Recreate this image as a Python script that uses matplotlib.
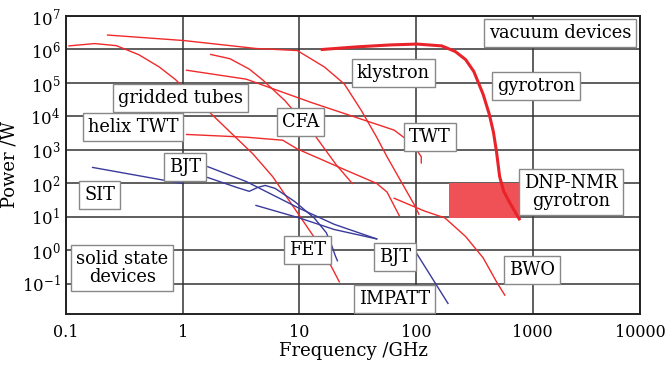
import matplotlib.pyplot as plt

plt.rcParams['font.family'] = 'DejaVu Serif'
plt.rcParams['mathtext.fontset'] = 'dejavuserif'

# vacuum devices: frequency (GHz) / average power (W)
gridded_f = [0.106, 0.176, 0.27, 0.42, 0.63, 0.87, 1.64, 4.0, 5.9, 10, 15.7, 22]
gridded_p = [1.28e6, 1.5e6, 1.3e6, 7e5, 3e5, 1.25e5, 1.5e4, 760, 160, 11, 1.1, 0.115]

klystron_f = [0.227, 1.02, 4.25, 9.6, 16.4, 24.3, 34, 46, 56.5, 96, 106]
klystron_p = [2.7e6, 1.85e6, 1.07e6, 9.3e5, 3.0e5, 9.3e4, 1.5e4, 2.4e3, 620, 24, 12]

cfa_f = [1.74, 2.54, 3.72, 4.85, 7.5, 13.4, 20.7, 28.4]
cfa_p = [7.1e5, 5.3e5, 2.6e5, 1.23e5, 3.0e4, 2.9e3, 360, 100]

twt_f = [1.08, 3.5, 12.7, 65, 96, 104, 111, 111]
twt_p = [2.4e5, 1.3e5, 2.6e4, 3.9e3, 1.4e3, 870, 620, 410]

helix_f = [1.08, 3.5, 7.2, 9.6, 24.3, 46, 56.5, 72]
helix_p = [2.9e3, 2.4e3, 1.95e3, 1.07e3, 260, 100, 55, 10.7]

gyro_f = [15.7, 31.4, 61, 102, 166, 217, 266, 313, 376, 425, 461, 490, 521, 565, 638, 767]
gyro_p = [1e6, 1.2e6, 1.37e6, 1.45e6, 1.28e6, 8.7e5, 5.0e5, 2.2e5, 4.6e4, 1.15e4,
          3.4e3, 870, 160, 58, 26, 8.7]

bwo_f = [65, 118, 177, 266, 376, 490, 577]
bwo_p = [36, 15, 9.3, 2.6, 0.6, 0.115, 0.046]

dnp_f = [190, 780]
dnp_low = [9, 9]
dnp_high = [100, 100]

# solid state devices
sit_f = [0.169, 0.98]
sit_p = [300, 100]

bjt_f = [1.64, 3.5, 10, 19.9, 46]
bjt_p = [316, 114, 18, 6.0, 2.2]

fet_f = [1.64, 2.9, 3.72, 4.4, 5.1, 6.2, 9.1, 13.4, 17, 18.8, 20.3, 21.2]
fet_p = [150, 76, 58, 76, 87, 71, 29, 9.3, 3.4, 1.5, 0.7, 0.49]

bjt2_f = [4.25, 10, 19.9, 46]
bjt2_p = [22, 9.3, 4.2, 2.2]

impatt_f = [100, 188]
impatt_p = [0.87, 0.026]

# the source figure squeezes its last decade, the right edge is labelled 10000
x_right = 10 ** 3.92
x_ticks = [0.1, 1, 10, 100, 1000, x_right]
x_labels = ['0.1', '1', '10', '100', '1000', '10000']
y_exp = list(range(-1, 8))

red = '#f02a2a'
blue = '#3a3a9c'

fig = plt.figure(figsize=(6.71, 3.66), dpi=100)
ax = fig.add_axes([0.0984, 0.1421, 0.8554, 0.8142])
ax.set_xscale('log')
ax.set_yscale('log')

for f, p in [(gridded_f, gridded_p), (klystron_f, klystron_p), (cfa_f, cfa_p),
             (twt_f, twt_p), (helix_f, helix_p), (bwo_f, bwo_p)]:
    ax.plot(f, p, color=red, lw=1.0)

ax.fill_between(dnp_f, dnp_low, dnp_high, color='#ef5157', lw=0, zorder=2)
ax.plot(gyro_f, gyro_p, color='#e8232a', lw=2.2, zorder=3)

for f, p in [(sit_f, sit_p), (bjt_f, bjt_p), (fet_f, fet_p),
             (bjt2_f, bjt2_p), (impatt_f, impatt_p)]:
    ax.plot(f, p, color=blue, lw=1.0)

ax.set_xlim(0.1, x_right)
ax.set_ylim(10 ** -1.9, 1e7)
ax.set_xticks(x_ticks, x_labels)
ax.set_yticks([10.0 ** e for e in y_exp], [f'$10^{{{e}}}$' for e in y_exp])
ax.minorticks_off()
ax.tick_params(length=0, labelsize=12)
ax.tick_params(axis='x', pad=7, labelsize=11.5)
ax.tick_params(axis='y', pad=4)
ax.grid(True, color='#333333', lw=1.1)
ax.set_axisbelow(True)
for s in ax.spines.values():
    s.set_linewidth(1.4)
    s.set_color('#222222')

ax.set_xlabel('Frequency /GHz', fontsize=13, labelpad=1)
ax.set_ylabel('Power /W', fontsize=13, labelpad=2)

labels = [
    ('vacuum devices', 0.861, 0.943),
    ('klystron', 0.570, 0.809),
    ('gyrotron', 0.819, 0.765),
    ('TWT', 0.634, 0.594),
    ('DNP-NMR\ngyrotron', 0.880, 0.409),
    ('BWO', 0.812, 0.148),
    ('IMPATT', 0.573, 0.050),
    ('BJT', 0.573, 0.191),
    ('FET', 0.420, 0.215),
    ('solid state\ndevices', 0.098, 0.154),
    ('SIT', 0.059, 0.399),
    ('BJT', 0.207, 0.493),
    ('helix TWT', 0.117, 0.628),
    ('gridded tubes', 0.199, 0.725),
    ('CFA', 0.409, 0.644),
]
for txt, fx, fy in labels:
    ax.text(fx, fy, txt, transform=ax.transAxes, ha='center', va='center',
            fontsize=12.8, linespacing=1.0, zorder=5,
            bbox=dict(boxstyle='square,pad=0.28', fc='white', ec='#888888', lw=1.0))

fig.savefig('out.png', dpi=100)
